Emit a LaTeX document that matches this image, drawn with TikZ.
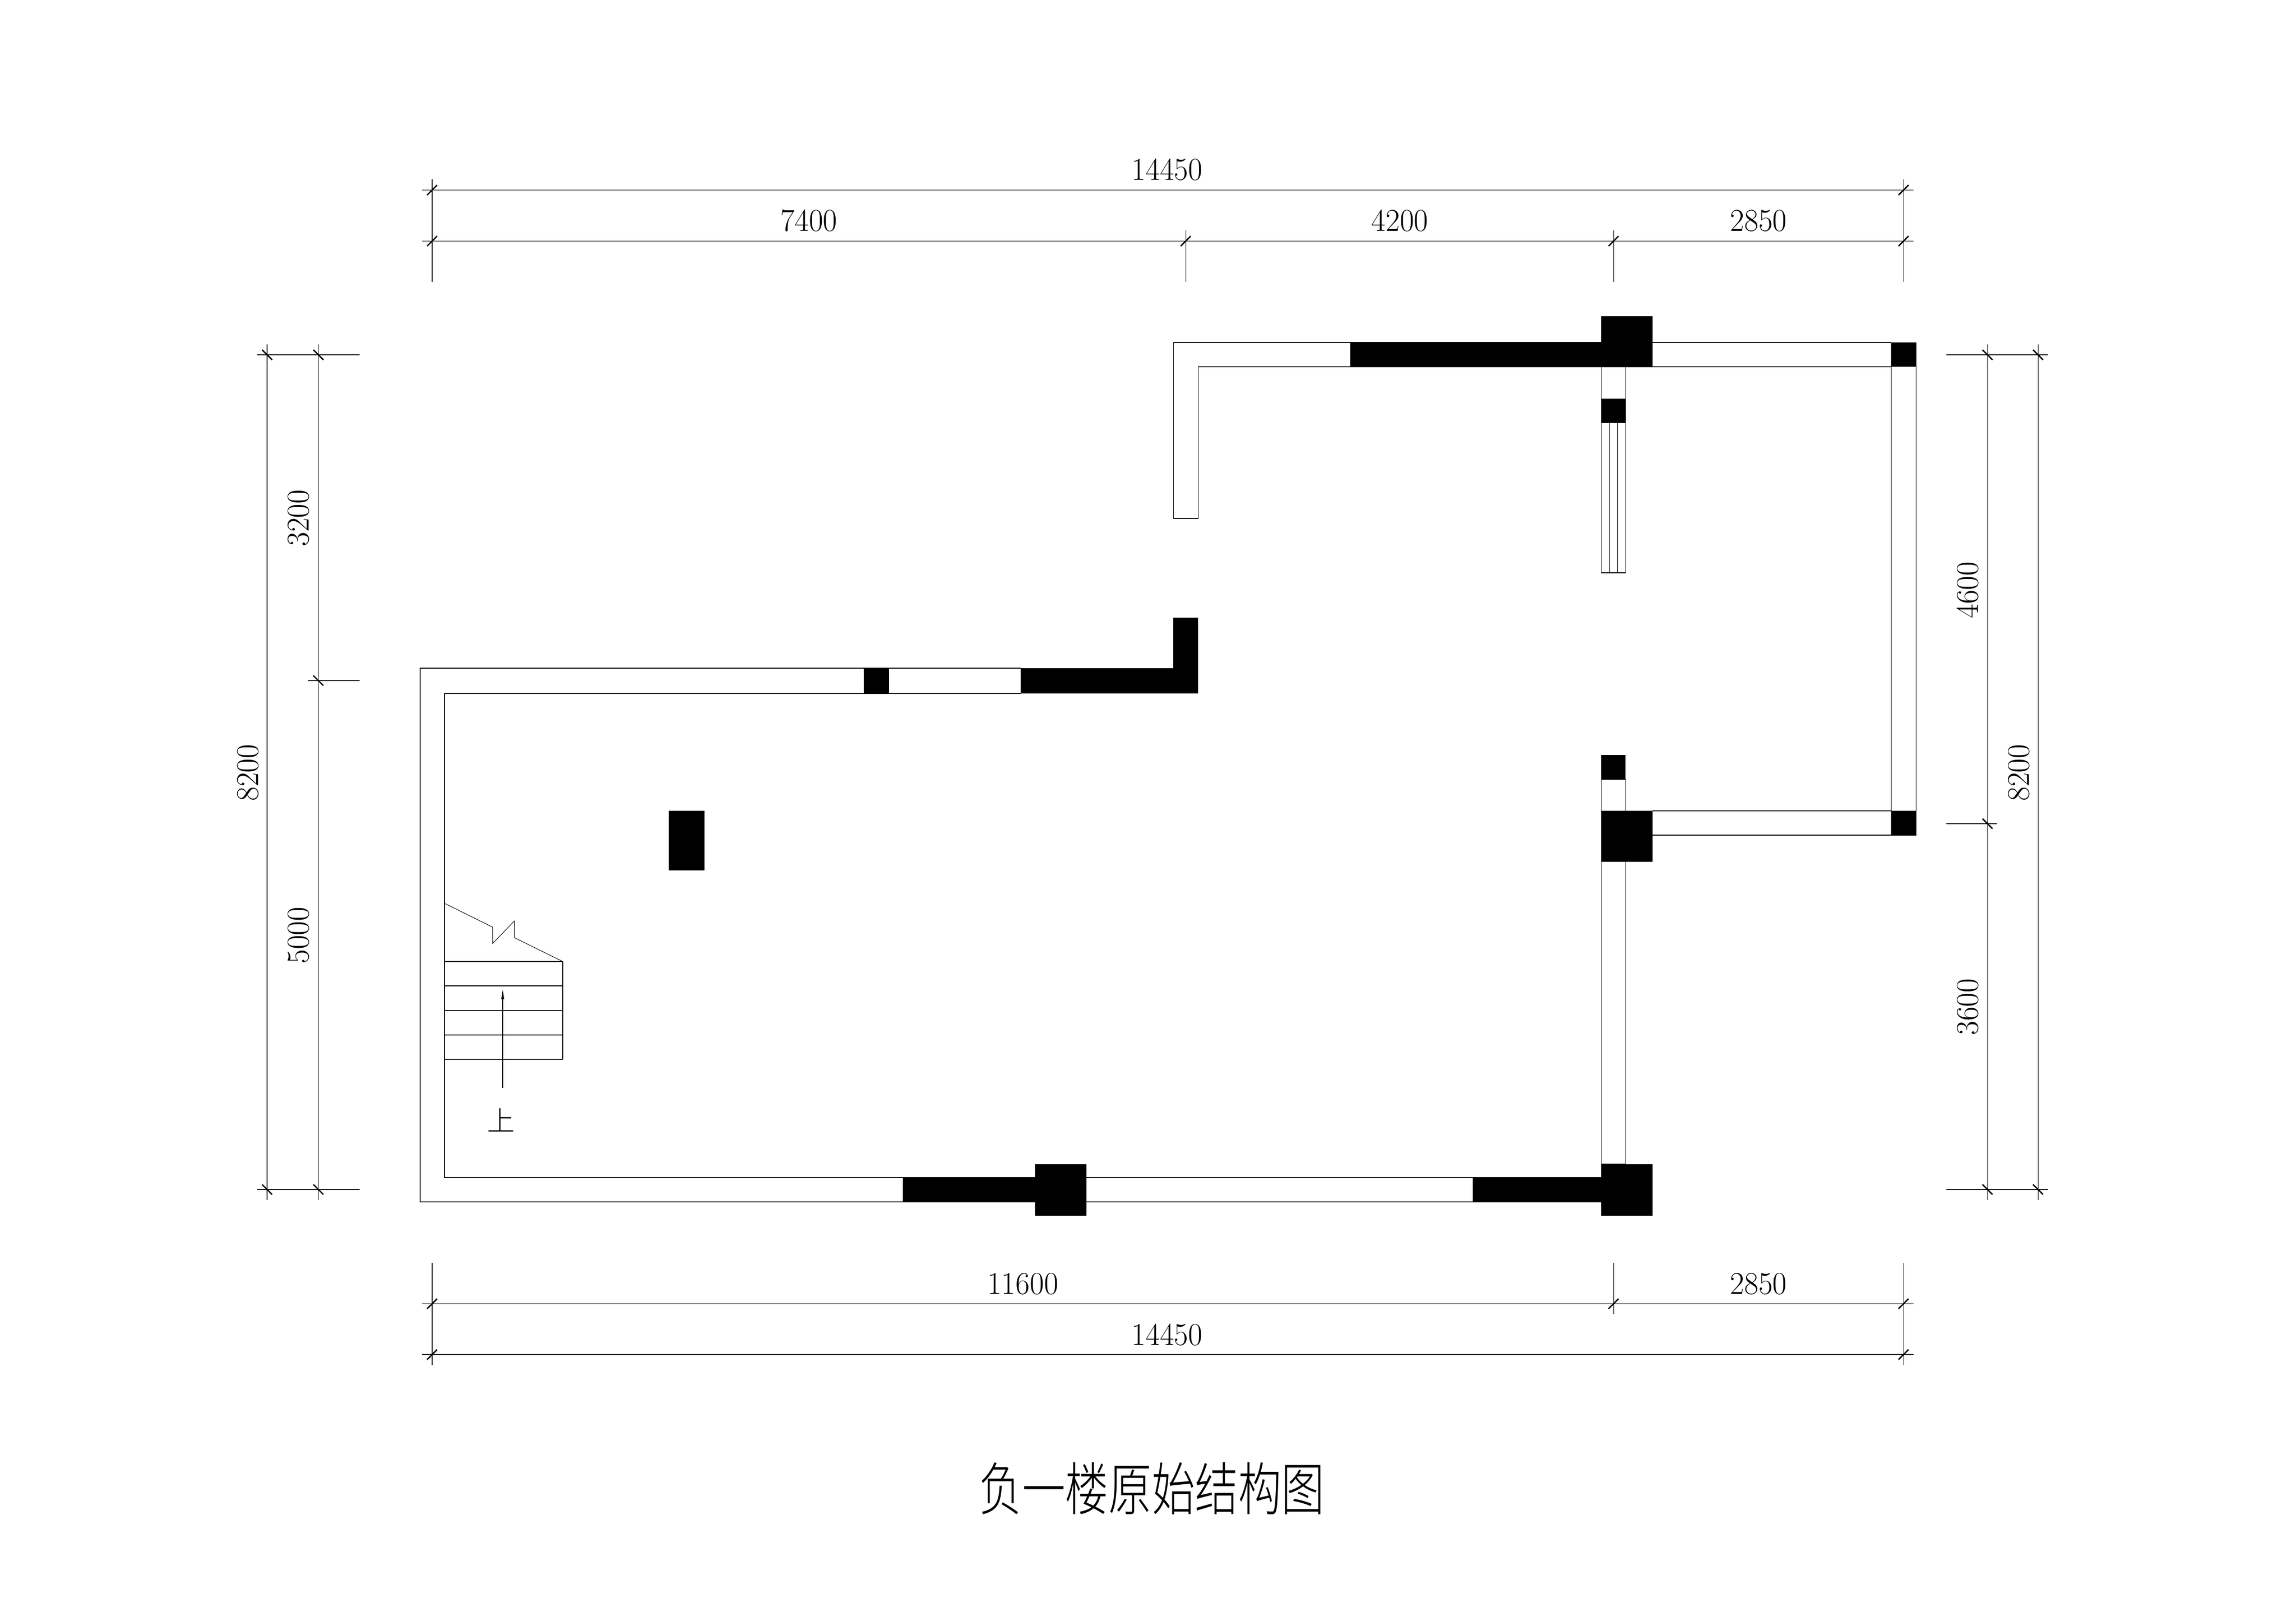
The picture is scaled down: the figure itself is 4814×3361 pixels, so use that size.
\documentclass[tikz,border=0pt]{standalone}
\usepackage{fontspec}
\newfontfamily\cjk{Noto Sans CJK SC Light}
\usepackage{tikz}
\tikzset{
  wall/.style={draw,line width=.3pt},
  column/.style={fill=black},
  dimline/.style={draw,line width=.3pt},
  dimtick/.style={draw,line width=.8pt},
  dimtext/.style={font=\fontsize{19}{19}\selectfont,inner sep=0,anchor=base,transform shape,xscale=.97},
  dimtextv/.style={rotate=90,dimtext},
  cjktext/.style={font=\cjk\fontsize{16.5}{16.5}\selectfont,inner sep=0,anchor=base},
  titletext/.style={font=\cjk\fontsize{34.1}{34.1}\selectfont,inner sep=0,anchor=base,transform shape,xscale=.756}
}
\begin{document}
\begin{tikzpicture}[x=.1mm,y=-.1mm]
\useasboundingbox (0,0) rectangle (4814,3361);
% walls
\draw[wall] (2460,1087) -- (2460,718) -- (3965,718);
\draw[wall] (2460,1087) -- (2512,1087) -- (2512,769) -- (3965,769);
\draw[wall] (3965,718) -- (3965,1700) -- (3465,1700);
\draw[wall] (4017,718) -- (4017,1751) -- (3465,1751);
\draw[wall] (3357,769) rectangle (3408,1201);
\draw[wall] (3374.5,887) -- (3374.5,1201);
\draw[wall] (3391,887) -- (3391,1201);
\draw[wall] (3357,1634) rectangle (3408,2441);
\draw[wall] (2140,1401) -- (881,1401) -- (881,2520) -- (3357,2520);
\draw[wall] (2140,1454) -- (932,1454) -- (932,2469) -- (3357,2469);
% columns
\fill[column] (2831,718) rectangle (3357,769);
\fill[column] (3357,663) rectangle (3465,769);
\fill[column] (3965,718) rectangle (4017,769);
\fill[column] (3357,836) rectangle (3408,887);
\fill[column] (3357,1583) rectangle (3408,1634);
\fill[column] (3357,1700) rectangle (3465,1807);
\fill[column] (3965,1700) rectangle (4017,1751);
\fill[column] (2460,1295) rectangle (2512,1454);
\fill[column] (2140,1401) rectangle (2512,1454);
\fill[column] (1811,1401) rectangle (1864,1454);
\fill[column] (1402,1700) rectangle (1477,1825);
\fill[column] (1893,2469) rectangle (2170,2520);
\fill[column] (2170,2441) rectangle (2278,2549);
\fill[column] (3088,2469) rectangle (3357,2520);
\fill[column] (3357,2441) rectangle (3465,2549);
% stairs
\foreach \y in {2016,2067,2119,2170,2221}
  \draw[wall] (932,\y) -- (1180,\y);
\draw[wall] (1180,2016) -- (1180,2221);
\draw[wall] (932,1894) -- (1033,1944) -- (1033,1978) -- (1078.5,1931) -- (1078.5,1966) -- (1180,2016);
\draw[wall] (1054,2281) -- (1054,2095);
\fill[column] (1051,2095) -- (1054,2075) -- (1057,2095) -- cycle;
\node[cjktext] (up) at (1050.5,2371) {上};
% top dimensions
\draw[dimline] (885,398.5) -- (4012,398.5);
\draw[dimline] (885,505.5) -- (4012,505.5);
\draw[dimline] (906,376.5) -- (906,591);
\draw[dimline] (2486,483) -- (2486,591);
\draw[dimline] (3383,483) -- (3383,591);
\draw[dimline] (3991,376.5) -- (3991,591);
\foreach \x in {906,3991}
  \draw[dimtick] (\x-10.5,398.5+10.5) -- (\x+10.5,398.5-10.5);
\foreach \x in {906,2486,3383,3991}
  \draw[dimtick] (\x-10.5,505.5+10.5) -- (\x+10.5,505.5-10.5);
\node[dimtext] (topall) at (2447,378) {14450};
\node[dimtext] (topa) at (1696,485) {7400};
\node[dimtext] (topb) at (2935,485) {4200};
\node[dimtext] (topc) at (3687,485) {2850};
% bottom dimensions
\draw[dimline] (885,2733.5) -- (4012,2733.5);
\draw[dimline] (885,2840) -- (4012,2840);
\draw[dimline] (906,2648) -- (906,2862);
\draw[dimline] (3383,2648) -- (3383,2755);
\draw[dimline] (3991,2648) -- (3991,2862);
\foreach \x in {906,3383,3991}
  \draw[dimtick] (\x-10.5,2733.5+10.5) -- (\x+10.5,2733.5-10.5);
\foreach \x in {906,3991}
  \draw[dimtick] (\x-10.5,2840+10.5) -- (\x+10.5,2840-10.5);
\node[dimtext] (bota) at (2144.5,2713) {11600};
\node[dimtext] (botb) at (3687,2713) {2850};
\node[dimtext] (botall) at (2447,2820) {14450};
% left dimensions
\draw[dimline] (560,722) -- (560,2516);
\draw[dimline] (667.5,722) -- (667.5,2516);
\draw[dimline] (539,744) -- (754,744);
\draw[dimline] (646,1427) -- (754,1427);
\draw[dimline] (539,2494) -- (754,2494);
\foreach \y in {744,2494}
  \draw[dimtick] (560-10.5,\y-10.5) -- (560+10.5,\y+10.5);
\foreach \y in {744,1427,2494}
  \draw[dimtick] (667.5-10.5,\y-10.5) -- (667.5+10.5,\y+10.5);
\node[dimtextv] (leftall) at (541,1620) {8200};
\node[dimtextv] (lefta) at (647,1086) {3200};
\node[dimtextv] (leftb) at (647,1961) {5000};
% right dimensions
\draw[dimline] (4167,722) -- (4167,2516);
\draw[dimline] (4273,722) -- (4273,2516);
\draw[dimline] (4081,744) -- (4294,744);
\draw[dimline] (4081,1727) -- (4187,1727);
\draw[dimline] (4081,2494) -- (4294,2494);
\foreach \y in {744,1727,2494}
  \draw[dimtick] (4167-10.5,\y-10.5) -- (4167+10.5,\y+10.5);
\foreach \y in {744,2494}
  \draw[dimtick] (4273-10.5,\y-10.5) -- (4273+10.5,\y+10.5);
\node[dimtextv] (righta) at (4147,1237) {4600};
\node[dimtextv] (rightb) at (4147,2111) {3600};
\node[dimtextv] (rightall) at (4254,1620) {8200};
% title
\node[titletext] (title) at (2415,3166) {负一楼原始结构图};
\end{tikzpicture}
\end{document}
